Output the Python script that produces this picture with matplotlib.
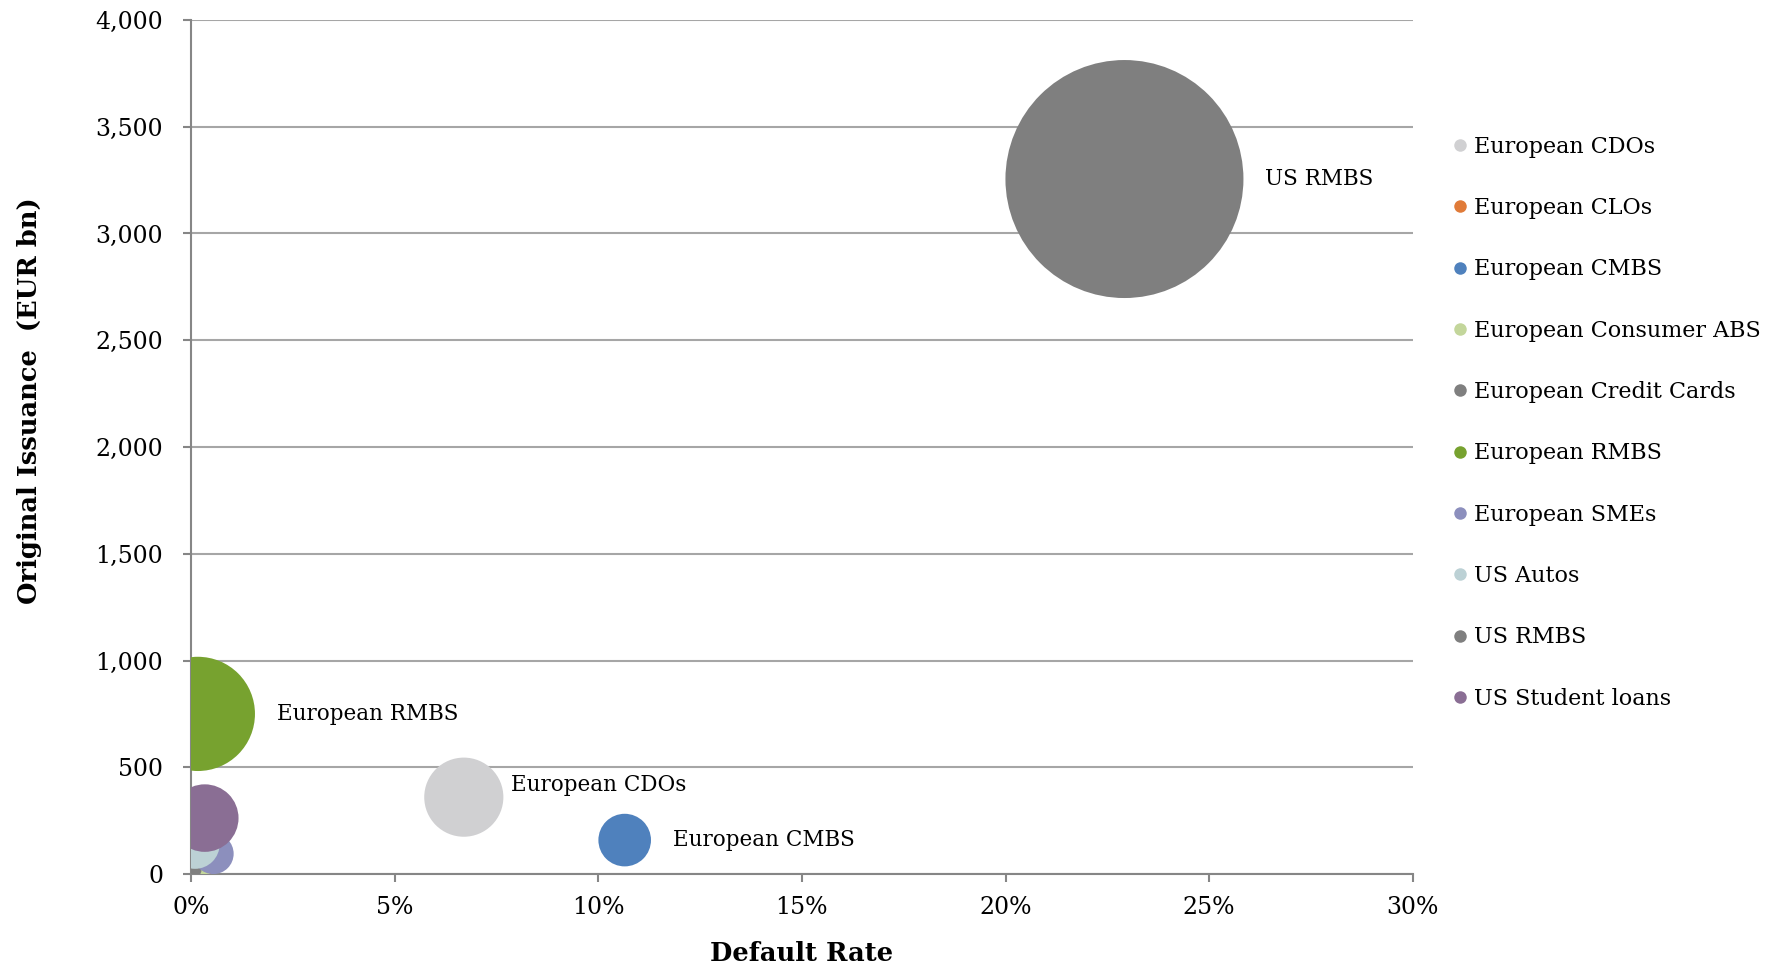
import matplotlib.pyplot as plt
from matplotlib.lines import Line2D
from matplotlib.ticker import PercentFormatter, FuncFormatter
import numpy as np

''' DATA '''
series = ['European CDOs', 'European CLOs', 'European CMBS', 'European Consumer ABS',
          'European Credit Cards', 'European RMBS', 'European SMEs', 'US Autos',
          'US RMBS', 'US Student loans']
default_rate = [0.067, 0.0026, 0.1065, 0.002, 0.0003, 0.0017, 0.0055, 0.001, 0.2292, 0.0034]
issuance = [360, 30, 159, 50, 20, 750, 95, 140, 3255, 262]
colors = ['#d0d0d2', '#e07b39', '#4f81bd', '#c3d69b', '#7f7f7f', '#77a22f',
          '#8c8fbd', '#bcd1d5', '#7f7f7f', '#8a6e94']
labelled = ['US RMBS', 'European RMBS', 'European CDOs', 'European CMBS']

''' PLOT '''
plt.rcParams['font.family'] = ['DejaVu Serif']
dpi = 100
fig = plt.figure(figsize=(17.76, 9.69), dpi=dpi)
ax = fig.add_axes([0.1075, 0.098, 0.688, 0.8814])

# bubble area proportional to issuance, biggest bubble ~119px radius
rmax_px = 119
vmax = max(issuance)
radii = [rmax_px * np.sqrt(v / vmax) for v in issuance]
for i in range(len(series)):
    d_pt = 2 * radii[i] * 72 / dpi
    ax.scatter(default_rate[i], issuance[i], s=d_pt ** 2, color=colors[i],
               edgecolors='none', zorder=3, clip_on=True)

for name in labelled:
    i = series.index(name)
    dx = (radii[i] + 22) * 72 / dpi
    dy = 0
    if name == 'European CDOs':
        dx = (radii[i] + 8) * 72 / dpi
        dy = 9
    ax.annotate(name, (default_rate[i], issuance[i]), xytext=(dx, dy),
                textcoords='offset points', ha='left', va='center', fontsize=15.5,
                zorder=4)

ax.set_xlim(0, 0.30)
ax.set_ylim(0, 4000)
ax.set_xticks(np.arange(0, 0.31, 0.05))
ax.set_yticks(np.arange(0, 4001, 500))
ax.xaxis.set_major_formatter(PercentFormatter(xmax=1, decimals=0))
ax.yaxis.set_major_formatter(FuncFormatter(lambda v, p: '{:,.0f}'.format(v)))
ax.tick_params(axis='both', labelsize=17, colors='#868686', labelcolor='black',
               direction='out', length=6, width=1.5)
ax.tick_params(axis='x', pad=10)
ax.tick_params(axis='y', pad=14)
ax.grid(axis='y', color='#a6a6a6', linewidth=1.5, zorder=0)
ax.set_axisbelow(True)
for s in ['top', 'right']:
    ax.spines[s].set_visible(False)
for s in ['left', 'bottom']:
    ax.spines[s].set_color('#868686')
    ax.spines[s].set_linewidth(1.5)

ax.set_xlabel('Default Rate', fontsize=18.5, fontweight='bold', labelpad=16)
ax.set_ylabel('Original Issuance  (EUR bn)', fontsize=18.5, fontweight='bold')
ax.yaxis.set_label_coords(-0.1215, 0.554)

handles = [Line2D([], [], marker='o', linestyle='none', markersize=9,
                  markerfacecolor=c, markeredgecolor='none') for c in colors]
fig.legend(handles, series, loc='upper left', bbox_to_anchor=(0.811, 0.869),
           frameon=False, fontsize=16, labelspacing=1.77, handletextpad=0.1,
           handlelength=1.0, borderaxespad=0)

fig.savefig('out.png', dpi=dpi)
